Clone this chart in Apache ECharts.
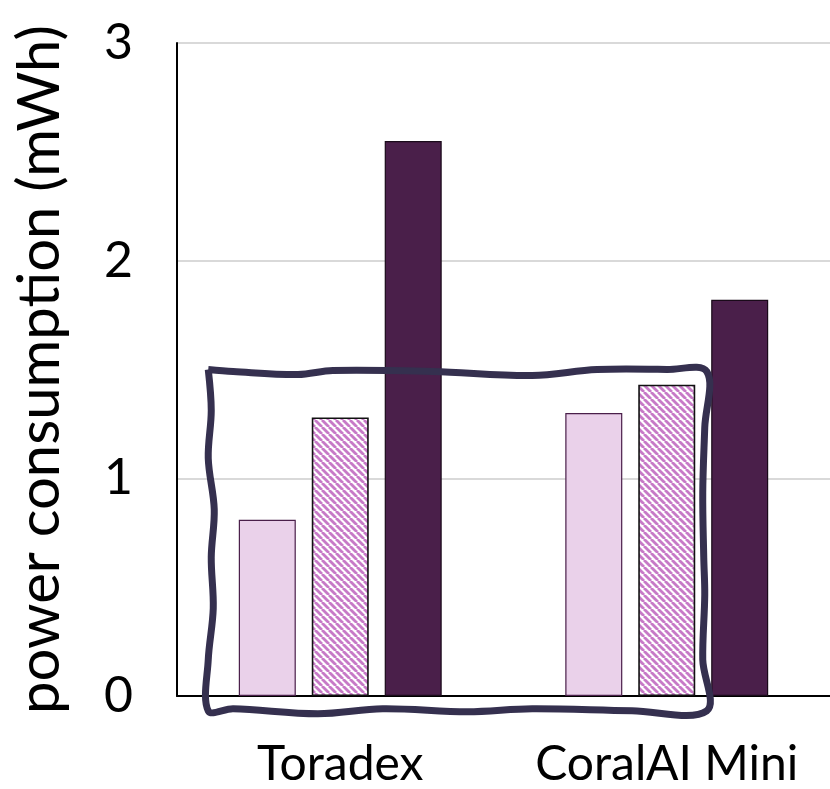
<!DOCTYPE html>
<html>
<head>
<meta charset="utf-8">
<script src="https://cdn.jsdelivr.net/npm/echarts@6/dist/echarts.min.js"></script>
<style>html,body{margin:0;padding:0;background:#fff}#c{width:830px;height:789px}</style>
</head>
<body>
<div id="c"></div>
<script>
const categories = ['Toradex', 'CoralAI Mini'];
const seriesLight = [0.81, 1.30];
const seriesHatched = [1.28, 1.43];
const seriesDark = [2.55, 1.82];
const yTicks = [0, 1, 2, 3];

function makeHatch() {
  const s = 7;
  const c = document.createElement('canvas');
  c.width = s; c.height = s;
  const g = c.getContext('2d');
  g.fillStyle = '#ffffff';
  g.fillRect(0, 0, s, s);
  g.strokeStyle = '#c77ac7';
  g.lineWidth = 2.8;
  for (let k = -1; k <= 1; k++) {
    g.beginPath();
    g.moveTo(k * s, 0);
    g.lineTo(k * s + s, s);
    g.stroke();
  }
  return c;
}

const chart = echarts.init(document.getElementById('c'), null, {renderer: 'canvas'});
const font = 'Lato, "Open Sans", sans-serif';
const option = {
  animation: false,
  grid: {left: 177, right: 0, top: 43, bottom: 92},
  xAxis: {
    type: 'category',
    data: categories,
    axisLine: {lineStyle: {color: '#000', width: 2}},
    axisTick: {show: false},
    axisLabel: {color: '#000', fontSize: 48, fontFamily: font, margin: 45, interval: 0, hideOverlap: false}
  },
  yAxis: {
    type: 'value',
    min: 0, max: 3, interval: 1,
    name: 'power consumption (mWh)',
    nameLocation: 'middle',
    nameRotate: 90,
    nameGap: 108,
    nameTextStyle: {color: '#000', fontSize: 58, fontFamily: font},
    axisLine: {show: true, lineStyle: {color: '#000', width: 2}},
    axisTick: {show: false},
    splitLine: {lineStyle: {color: '#d9d9d9', width: 2}},
    axisLabel: {color: '#000', fontSize: 50, fontFamily: font, margin: 44,
      formatter: v => yTicks.includes(v) ? String(v) : ''}
  },
  series: [
    {type: 'bar', data: seriesLight, barWidth: 57, barGap: '28%',
      itemStyle: {color: '#ead1ea', borderColor: '#4a1f4a', borderWidth: 1.2}},
    {type: 'bar', data: seriesHatched, barWidth: 57, barGap: '28%',
      itemStyle: {color: {image: makeHatch(), repeat: 'repeat'}, borderColor: '#111', borderWidth: 1.6}},
    {type: 'bar', data: seriesDark, barWidth: 57, barGap: '28%',
      itemStyle: {color: '#4a1f4a', borderColor: '#1a0a1a', borderWidth: 1.2}}
  ]
};
chart.setOption(option);

// Hand-drawn highlight box around the first two series
const c0 = chart.convertToPixel({xAxisIndex: 0}, 0);
const c1 = chart.convertToPixel({xAxisIndex: 0}, 1);
const yTop = chart.convertToPixel({yAxisIndex: 0}, 1.5);
const yBot = chart.convertToPixel({yAxisIndex: 0}, -0.068);
const L = c0 - 132, R = c1 + 40, T = yTop, B = yBot;
const W = R - L, H = B - T;
const pts = [];
[[0,0],[0.05,2],[0.18,5],[0.25,1],[0.45,2],[0.65,6],[0.78,0],[0.92,0],[1,2]].forEach(p => pts.push([L + p[0]*W, T + p[1]]));
[[0.17,-2],[0.36,-4],[0.55,-3],[0.66,-2],[0.85,-4],[1,0]].forEach(p => pts.push([R + p[1], T + p[0]*H]));
[[0.85,0],[0.65,-2],[0.52,1],[0.35,-2],[0.22,3],[0.05,-2],[0,0]].forEach(p => pts.push([L + p[0]*W, B + p[1]]));
[[0.85,0],[0.7,5],[0.55,3],[0.41,6],[0.26,0],[0.12,3],[0,0]].forEach(p => pts.push([L + p[1], T + p[0]*H]));

chart.setOption({
  graphic: [{
    type: 'polyline',
    shape: {points: pts, smooth: 0.35},
    style: {stroke: '#35304f', lineWidth: 7, fill: null, lineJoin: 'round'},
    z: 100
  }]
});
</script>
</body>
</html>
